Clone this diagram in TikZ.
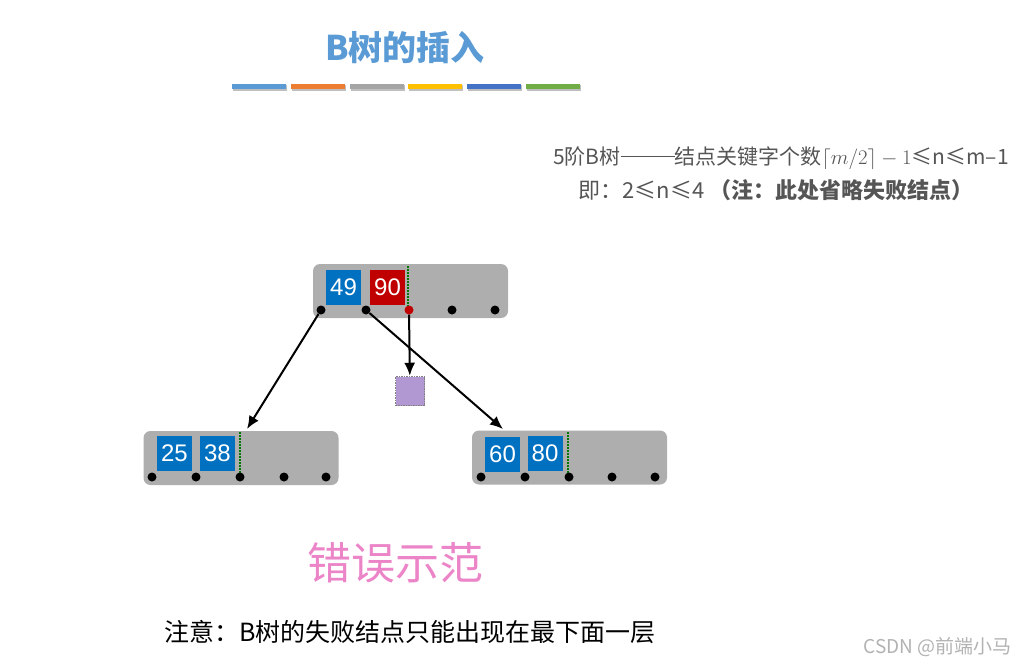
\documentclass[tikz,border=0pt]{standalone}
\usepackage{fontspec}
\setmainfont{Noto Sans CJK SC}
\newfontfamily\keyfont{Liberation Sans}
\usetikzlibrary{arrows.meta,positioning}
\definecolor{titleblue}{RGB}{91,155,213}
\definecolor{barorange}{RGB}{237,125,49}
\definecolor{bargray}{RGB}{165,165,165}
\definecolor{baryellow}{RGB}{255,192,0}
\definecolor{bardblue}{RGB}{68,114,196}
\definecolor{bargreen}{RGB}{112,173,71}
\definecolor{keyblue}{RGB}{0,112,192}
\definecolor{keyred}{RGB}{192,0,0}
\definecolor{nodegray}{RGB}{174,174,174}
\definecolor{failpurple}{RGB}{178,152,210}
\definecolor{notegray}{RGB}{85,85,85}
\definecolor{pinktext}{RGB}{236,132,200}
\definecolor{dotgreen}{RGB}{0,120,0}
\newcommand{\longdash}{\rule[0.33em]{54pt}{1.2pt}}

\begin{document}
\begin{tikzpicture}[x=1pt,y=-1pt,>=Latex,
  bnode/.style={fill=nodegray,rounded corners=7pt,minimum width=195pt,minimum height=54pt,inner sep=0pt},
  keybox/.style={fill=keyblue,text=white,minimum width=35pt,minimum height=35pt,inner sep=0pt,font=\keyfont\fontsize{24}{24}\selectfont},
  ptr/.style={circle,fill=black,minimum size=9pt,inner sep=0pt},
  split/.style={dotgreen,densely dotted,line width=2pt},
  arr/.style={-{Latex[length=13pt,width=11pt]},line width=2pt}]
\useasboundingbox (0,0) rectangle (1017,664);

% title and colour bars
\node[font=\bfseries\fontsize{34}{34}\selectfont,text=titleblue] (title) at (405,48) {B树的插入};
\foreach \c [count=\i] in {titleblue,barorange,bargray,baryellow,bardblue,bargreen} {
  \pgfmathsetmacro{\bx}{232+(\i-1)*58.8}
  \fill[black!25] (\bx+1,85) rectangle ++(54,6);
  \fill[\c] (\bx,84) rectangle ++(54,5);
}

% note on the right
\node[anchor=east,text=notegray,font=\fontsize{21}{21}\selectfont,inner sep=0pt] (rule) at (1009,158)
  {5阶B树\longdash 结点关键字个数$\lceil m/2\rceil - 1$≤n≤m–1};
\node[text=notegray,font=\fontsize{22}{22}\selectfont] (range) at (776,190)
  {即：2≤n≤4 \textbf{（注：此处省略失败结点）}};

% root
\node[bnode] (root) at (410.5,291) {};
\node[keybox] (k49) at (343.5,287.5) {49};
\node[keybox,fill=keyred] (k90) at (387.5,287.5) {90};
\draw[split] (408,266) -- (408,308);
\foreach \i/\x in {1/321,2/366,4/452,5/495}
  \node[ptr] (r\i) at (\x,310) {};
\node[ptr,fill=keyred] (r3) at (409,310) {};

% left child
\node[bnode] (lc) at (241,458) {};
\node[keybox] (k25) at (174.5,453.5) {25};
\node[keybox] (k38) at (217.5,453.5) {38};
\draw[split] (240,432) -- (240,475);
\foreach \x [count=\i] in {152,196,240,284,326}
  \node[ptr] (l\i) at (\x,477) {};

% right child
\node[bnode] (rc) at (569.5,457.5) {};
\node[keybox] (k60) at (502.5,454) {60};
\node[keybox] (k80) at (545,453) {80};
\draw[split] (568,432) -- (568,475);
\foreach \x [count=\i] in {481,525,569,612,655}
  \node[ptr] (q\i) at (\x,477) {};

% failure node in the middle
\node[draw=gray,densely dotted,line width=1.5pt,fill=failpurple,minimum size=29pt,inner sep=0pt] (fail) at (410,391) {};

\coordinate (lin) at (247,429);
\coordinate (rin) at (503,429);
\draw[arr] (r1) -- (lin);
\draw[arr] (r2) -- (rin);
\draw[arr] (r3) -- (fail);

% captions
\node[text=pinktext,font=\fontsize{44}{44}\selectfont] (wrong) at (395,563) {错误示范};
\node[font=\fontsize{25}{25}\selectfont] (note) at (410,632) {注意：B树的失败结点只能出现在最下面一层};
\node[anchor=east,text=black!30,font=\fontsize{19}{19}\selectfont,inner sep=0pt] (mark) at (1012,647) {CSDN @前端小马};
\end{tikzpicture}
\end{document}
